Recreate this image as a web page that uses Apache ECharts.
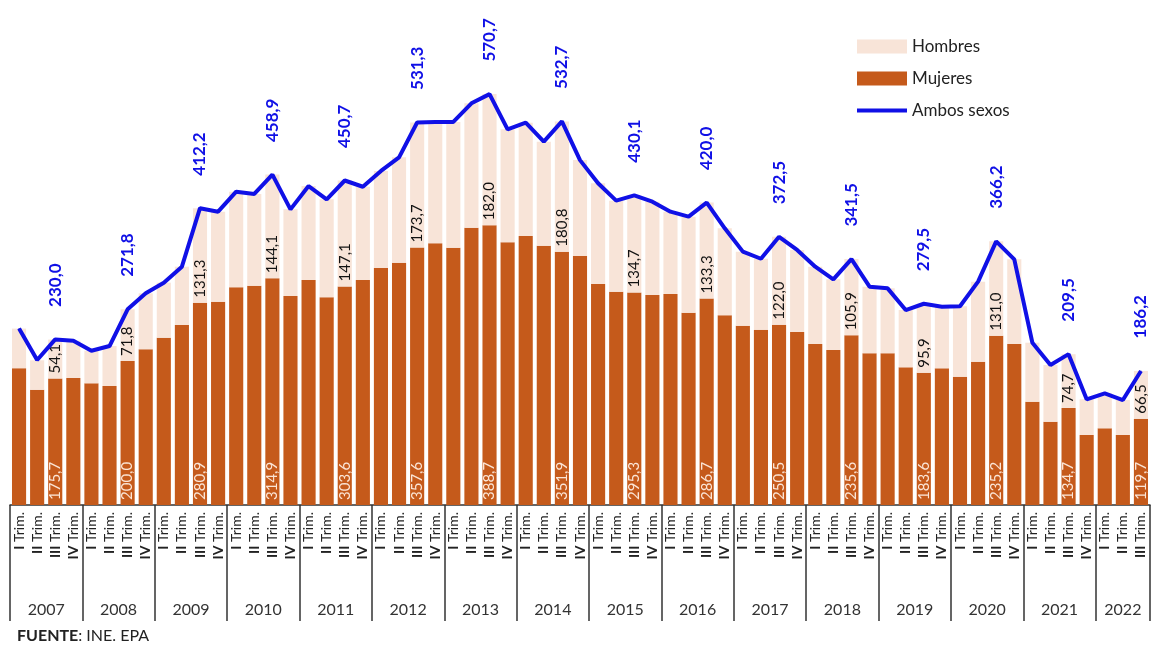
<!DOCTYPE html>
<html>
<head>
<meta charset="utf-8">
<script src="https://cdn.jsdelivr.net/npm/echarts@6/dist/echarts.min.js"></script>
<style>
  html, body { margin: 0; padding: 0; background: #fff; }
  #chart { width: 1156px; height: 645px; }
</style>
</head>
<body>
<div id="chart"></div>
<script>
// trimestres 2007 I - 2022 III
const years = ['2007', '2008', '2009', '2010', '2011', '2012', '2013', '2014',
  '2015', '2016', '2017', '2018', '2019', '2020', '2021', '2022']
const quarterNames = ['I', 'II', 'III', 'IV']

const mujeres = [
  190.0, 160.0, 175.7, 176.4,  169.0, 165.3, 200.0, 216.3,
  232.4, 250.0, 280.9, 282.4,  302.3, 304.6, 314.9, 290.3,
  312.5, 288.4, 303.6, 312.5,  329.0, 336.6, 357.6, 363.4,
  357.4, 385.2, 388.7, 364.8,  373.6, 360.2, 351.9, 346.0,
  306.9, 296.3, 295.3, 291.7,  293.0, 267.1, 286.7, 263.4,
  249.0, 243.5, 250.5, 240.3,  223.6, 215.3, 235.6, 210.6,
  210.6, 191.2, 183.6, 189.8,  178.2, 199.0, 235.2, 223.6,
  143.5, 115.7, 134.7, 97.2,   106.5, 97.2, 119.7
]

const hombres = [
  55.0, 41.0, 54.1, 51.8,      45.3, 55.5, 71.8, 77.7,
  76.4, 81.0, 131.3, 125.0,    132.9, 127.4, 144.1, 120.3,
  130.5, 136.1, 147.1, 129.5,  135.0, 146.3, 173.7, 168.6,
  174.6, 172.7, 182.0, 157.0,  157.4, 144.4, 180.8, 133.0,
  139.9, 126.4, 134.7, 129.6,  114.4, 133.4, 133.3, 120.9,
  102.9, 98.5, 122.0, 113.9,   107.4, 98.1, 105.9, 92.6,
  90.3, 79.6, 95.9, 85.6,      97.8, 111.2, 131.0, 117.6,
  81.9, 78.7, 74.7, 49.6,      48.6, 48.6, 66.5
]

const ambos = [
  245.0, 201.4, 230.0, 228.2,  214.3, 220.8, 271.8, 294.0,
  308.8, 331.0, 412.2, 407.4,  435.2, 432.0, 458.9, 410.6,
  443.0, 424.5, 450.7, 442.0,  464.0, 482.9, 531.3, 532.0,
  532.0, 557.9, 570.7, 521.8,  531.0, 504.6, 532.7, 479.0,
  446.8, 422.7, 430.1, 421.3,  407.4, 400.5, 420.0, 384.3,
  351.9, 342.0, 372.5, 354.2,  331.0, 313.4, 341.5, 303.2,
  300.9, 270.8, 279.5, 275.4,  276.0, 310.2, 366.2, 341.2,
  225.4, 194.4, 209.5, 146.8,  155.1, 145.8, 186.2
]

const categories = mujeres.map((v, i) => quarterNames[i % 4] + ' Trim.')

// limites de año y centros de año en la escala de trimestres
const yearEdges = years.map((y, i) => i * 4).concat([mujeres.length])
const yearCenters = years.map((y, i) => (yearEdges[i] + yearEdges[i + 1]) / 2)

const FONT = 'Lato, "Liberation Sans", sans-serif'
const BLUE = '#1010E6'

function fmt(v) {
  return v.toFixed(1).replace('.', ',')
}

function onlyQ3(p) {
  return p.dataIndex % 4 === 2 ? fmt(p.value) : ''
}

const chart = echarts.init(document.getElementById('chart'))

const option = {
  animation: false,
  textStyle: { fontFamily: FONT },
  title: {
    left: 12,
    top: 623,
    text: '{b|FUENTE}: INE. EPA',
    textStyle: {
      fontFamily: FONT,
      fontSize: 16,
      fontWeight: 'normal',
      color: '#222',
      rich: { b: { fontFamily: FONT, fontSize: 16, fontWeight: 'bold', color: '#222' } }
    }
  },
  legend: {
    orient: 'vertical',
    left: 852,
    top: 33,
    itemWidth: 50,
    itemHeight: 14,
    itemGap: 15,
    textStyle: { fontFamily: FONT, fontSize: 17, color: '#222' },
    data: [
      { name: 'Hombres', icon: 'rect' },
      { name: 'Mujeres', icon: 'rect' },
      { name: 'Ambos sexos', icon: 'path://M0,0 L50,0 L50,4 L0,4 Z' }
    ]
  },
  grid: { left: 10, right: 6, top: 1, bottom: 140 },
  xAxis: [
    {
      type: 'category',
      data: categories,
      axisLine: { show: true, lineStyle: { color: '#333', width: 1.5 } },
      axisTick: { show: false },
      axisLabel: {
        interval: 0,
        rotate: 90,
        margin: 7,
        fontFamily: FONT,
        fontSize: 14,
        color: '#222',
        formatter: function (v) {
          const parts = v.split(' ')
          return '{b|' + parts[0] + '} ' + parts[1]
        },
        rich: { b: { fontFamily: FONT, fontSize: 14, fontWeight: 'bold', color: '#222' } }
      }
    },
    {
      type: 'value',
      position: 'bottom',
      min: 0,
      max: mujeres.length,
      splitLine: { show: false },
      axisLine: { show: false },
      axisTick: {
        show: true,
        length: 116,
        customValues: yearEdges,
        lineStyle: { color: '#333', width: 1.5 }
      },
      axisLabel: {
        customValues: yearCenters,
        margin: 97,
        fontFamily: FONT,
        fontSize: 16,
        color: '#333',
        formatter: function (v) {
          return years[Math.floor(v / 4)]
        }
      }
    }
  ],
  yAxis: {
    type: 'value',
    min: 0,
    max: 700,
    show: false,
    splitLine: { show: false }
  },
  series: [
    {
      name: 'Mujeres',
      type: 'bar',
      stack: 'total',
      data: mujeres,
      barCategoryGap: '22%',
      itemStyle: { color: '#C55A1B' },
      label: {
        show: true,
        position: 'insideBottom',
        rotate: 90,
        align: 'left',
        verticalAlign: 'middle',
        distance: 5,
        fontFamily: FONT,
        fontSize: 15,
        color: '#FBE5D6',
        formatter: onlyQ3
      }
    },
    {
      name: 'Hombres',
      type: 'bar',
      stack: 'total',
      data: hombres,
      itemStyle: { color: '#F8E4D8' },
      label: {
        show: true,
        position: 'insideBottom',
        rotate: 90,
        align: 'left',
        verticalAlign: 'middle',
        distance: 5,
        fontFamily: FONT,
        fontSize: 15,
        color: '#111',
        formatter: onlyQ3
      }
    },
    {
      name: 'Ambos sexos',
      type: 'line',
      data: ambos,
      symbol: 'circle',
      symbolSize: 1,
      showSymbol: true,
      z: 5,
      lineStyle: { color: BLUE, width: 4 },
      itemStyle: { color: BLUE },
      label: {
        show: true,
        position: 'top',
        rotate: 90,
        align: 'left',
        verticalAlign: 'middle',
        distance: 32,
        fontFamily: FONT,
        fontSize: 17,
        fontWeight: 'bold',
        color: BLUE,
        formatter: onlyQ3
      }
    }
  ]
}

chart.setOption(option)
</script>
</body>
</html>
